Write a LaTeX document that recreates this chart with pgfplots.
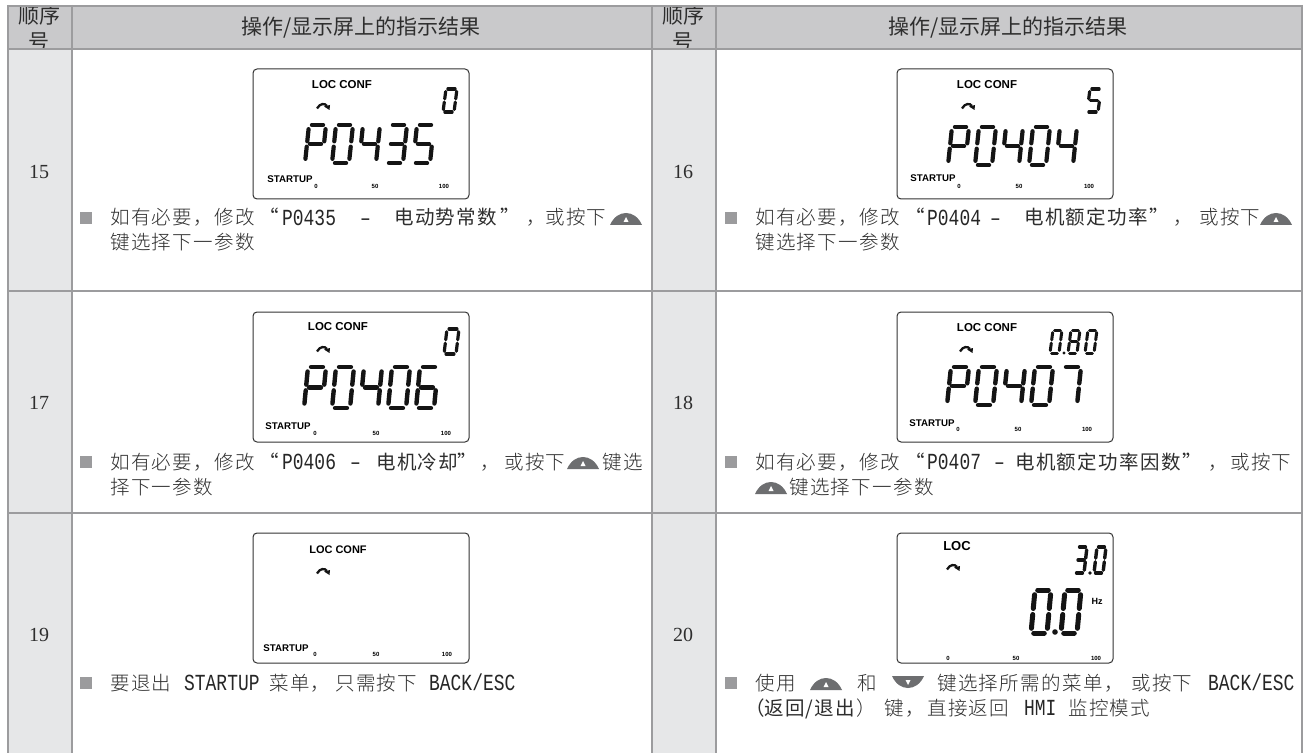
\documentclass[border=0pt]{standalone}
\usepackage{pgfplots}
\pgfplotsset{compat=1.18}
\usepackage{fontspec}
\setmainfont{Liberation Sans}
\newfontfamily\cjk[LetterSpace=7]{Noto Sans CJK SC}
\newfontfamily\cjkl[LetterSpace=7,UprightFont=* Light]{Noto Sans CJK SC}
\newfontfamily\cjkh{Noto Sans CJK SC}
\newfontfamily\mono{Liberation Mono}
\newfontfamily\ser{Liberation Serif}
\definecolor{hdr}{HTML}{C9C9CB}
\definecolor{numc}{HTML}{E6E7E8}
\definecolor{rule}{HTML}{9C9C9E}
\definecolor{txt}{HTML}{2E2E2E}
\definecolor{btn}{HTML}{6D6E70}
\definecolor{bul}{HTML}{9B9B9D}
% seven-segment digits
\def\Da{\segm{.17}{0}{.83}{0}}
\def\Db{\segm{1}{.11}{1}{.43}}
\def\Dc{\segm{1}{.57}{1}{.89}}
\def\Dd{\segm{.83}{1}{.17}{1}}
\def\De{\segm{0}{.89}{0}{.57}}
\def\Df{\segm{0}{.43}{0}{.11}}
\def\Dg{\segm{.17}{.5}{.83}{.5}}
\def\DP{a,b,e,f,g}
\expandafter\def\csname D0\endcsname{a,b,c,d,e,f}
\expandafter\def\csname D3\endcsname{a,b,c,d,g}
\expandafter\def\csname D4\endcsname{b,c,f,g}
\expandafter\def\csname D5\endcsname{a,c,d,f,g}
\expandafter\def\csname D6\endcsname{a,c,d,e,f,g}
\expandafter\def\csname D7\endcsname{a,b,c}
\expandafter\def\csname D8\endcsname{a,b,c,d,e,f,g}
\newcommand\segm[4]{\draw[line width=\dlw pt,line cap=round,black!92]
  (axis cs:{\dx+#1*\dw+(1-#2)*\ds},{\dy+#2*\dh}) -- (axis cs:{\dx+#3*\dw+(1-#4)*\ds},{\dy+#4*\dh});}
% x y w(without slant) h slant lw digit
\newcommand\dig[7]{\begingroup\def\dx{#1}\def\dy{#2}\def\dw{#3}\def\dh{#4}\def\ds{#5}\def\dlw{#6}%
  \edef\lst{\csname D#7\endcsname}\foreach \s in \lst {\csname D\s\endcsname}\endgroup}
\newcommand\Dot[3]{\fill[black!92] (axis cs:#1,#2) circle[radius=#3pt];}
% x y pitch w h slant lw list
\newcommand\drow[8]{\foreach \c [count=\i from 0] in {#8}{\pgfmathsetmacro\xx{#1+\i*#3}\dig{\xx}{#2}{#4}{#5}{#6}{#7}{\c}}}
\newcommand\T[4]{\node[anchor=base west,inner sep=0,text=txt] at (axis cs:#1,{#2+7}) {#3\fontsize{19.5}{20}\selectfont #4};}
\newcommand\M[3]{\node[anchor=base west,inner sep=0,text=black!85] at (axis cs:#1,{#2+7.5}) {\scalebox{.78}[1]{\mono\fontsize{23}{24}\selectfont #3}};}
\newcommand\Bul[2]{\fill[bul] (axis cs:#1,{#2-6}) rectangle (axis cs:{#1+12},{#2+6});}
\newcommand\up[2]{\fill[btn] (axis cs:#1,{#2+7}) .. controls (axis cs:{#1+7},{#2-9}) and (axis cs:{#1+25},{#2-9}) .. (axis cs:{#1+32},{#2+7}) -- cycle;
  \fill[white] (axis cs:{#1+16},{#2-1}) -- (axis cs:{#1+18.5},{#2+4}) -- (axis cs:{#1+13.5},{#2+4}) -- cycle;}
\newcommand\down[2]{\fill[btn] (axis cs:#1,{#2-7}) .. controls (axis cs:{#1+7},{#2+9}) and (axis cs:{#1+25},{#2+9}) .. (axis cs:{#1+32},{#2-7}) -- cycle;
  \fill[white] (axis cs:{#1+16},{#2+2}) -- (axis cs:{#1+18.5},{#2-3}) -- (axis cs:{#1+13.5},{#2-3}) -- cycle;}
\newcommand\Sa[4]{\node[anchor=center,inner sep=0] at (axis cs:#1,#2) {\fontsize{#3}{#3}\selectfont\bfseries #4};}
\newcommand\Arrow[2]{\draw[line width=2.3pt,black!92] (axis cs:{#1-6},{#2+2.5}) .. controls (axis cs:{#1-3},{#2-3}) and (axis cs:{#1+2},{#2-3}) .. (axis cs:{#1+4},{#2});
  \fill[black!92] (axis cs:{#1+1},{#2+0.5}) -- (axis cs:{#1+7},{#2-1}) -- (axis cs:{#1+6.5},{#2+4}) -- cycle;}
\newcommand\LCD[2]{\draw[line width=1pt,black!80,rounded corners=4pt] (axis cs:#1,#2) rectangle (axis cs:{#1+216},{#2+130});}
\begin{document}
\begin{tikzpicture}
\begin{axis}[at={(0,0)},anchor=south west,scale only axis,width=1304pt,height=753pt,
  xmin=0,xmax=1304,ymin=0,ymax=753,y dir=reverse,hide axis,clip=false]
\path (axis cs:0,0) rectangle (axis cs:1304,753);
% header band
\addplot[draw=none,fill=hdr,forget plot] coordinates {(7,6) (1302,6) (1302,49) (7,49)} -- cycle;
\node[inner sep=0,text=txt] at (axis cs:39,16) {\cjkh\fontsize{21}{21}\selectfont 顺序};
\node[inner sep=0,text=txt] at (axis cs:39,42) {\cjkh\fontsize{21}{21}\selectfont 号};
\node[inner sep=0,text=txt] at (axis cs:683,16) {\cjkh\fontsize{21}{21}\selectfont 顺序};
\node[inner sep=0,text=txt] at (axis cs:683,42) {\cjkh\fontsize{21}{21}\selectfont 号};
\node[inner sep=0,text=txt] at (axis cs:361,28) {\cjkh\fontsize{21}{21}\selectfont 操作/显示屏上的指示结果};
\node[inner sep=0,text=txt] at (axis cs:1008,28) {\cjkh\fontsize{21}{21}\selectfont 操作/显示屏上的指示结果};
\addplot[draw=none,fill=white,forget plot] coordinates {(0,0) (1304,0) (1304,5) (0,5)} -- cycle;
\addplot[draw=none,fill=white,forget plot] coordinates {(0,49) (1304,49) (1304,753) (0,753)} -- cycle;
% number columns
\addplot[draw=none,fill=numc,forget plot] coordinates {(7,49) (71,49) (71,753) (7,753)} -- cycle;
\addplot[draw=none,fill=numc,forget plot] coordinates {(651,49) (715,49) (715,753) (651,753)} -- cycle;
% rules
\addplot[rule,line width=2pt,forget plot] coordinates {(7,6) (1302,6)};
\addplot[rule,line width=2pt,forget plot] coordinates {(7,49.5) (1302,49.5)};
\addplot[rule,line width=2pt,forget plot] coordinates {(7,291) (1302,291)};
\addplot[rule,line width=2pt,forget plot] coordinates {(7,513) (1302,513)};
\addplot[rule,line width=2pt,forget plot] coordinates {(7.5,5) (7.5,753)};
\addplot[rule,line width=2pt,forget plot] coordinates {(71.5,5) (71.5,753)};
\addplot[rule,line width=2pt,forget plot] coordinates {(651.5,5) (651.5,753)};
\addplot[rule,line width=2pt,forget plot] coordinates {(715.5,5) (715.5,753)};
\addplot[rule,line width=2pt,forget plot] coordinates {(1302,5) (1302,753)};
% row numbers
\node[inner sep=0,text=txt] at (axis cs:39,172) {\ser\fontsize{20}{20}\selectfont 15};
\node[inner sep=0,text=txt] at (axis cs:683,172) {\ser\fontsize{20}{20}\selectfont 16};
\node[inner sep=0,text=txt] at (axis cs:39,403) {\ser\fontsize{20}{20}\selectfont 17};
\node[inner sep=0,text=txt] at (axis cs:683,403) {\ser\fontsize{20}{20}\selectfont 18};
\node[inner sep=0,text=txt] at (axis cs:39,635) {\ser\fontsize{20}{20}\selectfont 19};
\node[inner sep=0,text=txt] at (axis cs:683,635) {\ser\fontsize{20}{20}\selectfont 20};
% LCD boxes
\LCD{253}{69}\LCD{897}{69}\LCD{253}{312}\LCD{897}{312}\LCD{253}{533}\LCD{897}{533}
% box 15
\Sa{342}{85}{11.5}{LOC CONF}\Sa{290}{179}{9.7}{STARTUP}\Sa{316}{186}{6}{0}\Sa{375}{186}{6}{50}\Sa{444}{186}{6}{100}\Arrow{323}{106}
\pgfplotsextra{\dig{443}{89}{11}{23}{3}{3.2}{0}\drow{305}{125}{27}{17}{38}{4}{4.2}{P,0,4,3,5}}
% box 16
\Sa{987}{85}{11.5}{LOC CONF}\Sa{933}{178}{9.7}{STARTUP}\Sa{959}{186}{6}{0}\Sa{1019}{186}{6}{50}\Sa{1089}{186}{6}{100}\Arrow{968}{106}
\pgfplotsextra{\dig{1087}{89}{11}{23}{3}{3.2}{5}\drow{948}{127}{27}{17}{38}{4}{4.2}{P,0,4,0,4}}
% box 17
\Sa{338}{327}{11.5}{LOC CONF}\Sa{288}{426}{9.7}{STARTUP}\Sa{315}{433}{6}{0}\Sa{376}{433}{6}{50}\Sa{446}{433}{6}{100}\Arrow{323}{349}
\pgfplotsextra{\dig{444}{329}{12}{25}{3}{3.2}{0}\drow{304}{367}{28}{18}{41}{4}{4.4}{P,0,4,0,6}}
% box 18
\Sa{987}{328}{11.5}{LOC CONF}\Sa{932}{423}{9.7}{STARTUP}\Sa{958}{429}{6}{0}\Sa{1018}{429}{6}{50}\Sa{1087}{429}{6}{100}\Arrow{966}{349}
\pgfplotsextra{\drow{947}{367}{28}{18}{38}{4}{4.4}{P,0,4,0,7}
  \dig{1050}{330}{9}{23}{3}{3}{0}\Dot{1064}{353}{1.6}\dig{1068}{330}{9}{23}{3}{3}{8}\dig{1085}{330}{9}{23}{3}{3}{0}}
% box 19
\Sa{338}{550}{11}{LOC CONF}\Sa{286}{648}{9.7}{STARTUP}\Sa{315}{654}{6}{0}\Sa{376}{654}{6}{50}\Sa{447}{654}{6}{100}\Arrow{323}{571}
% box 20
\Sa{957}{546}{13}{LOC}\Arrow{953}{567}\Sa{1097}{601}{9}{Hz}\Sa{948}{658}{6}{0}\Sa{1016}{658}{6}{50}\Sa{1096}{658}{6}{100}
\pgfplotsextra{\dig{1075}{547}{9}{26}{3}{3.4}{3}\Dot{1090}{573}{1.8}\dig{1094}{547}{9}{26}{3}{3.4}{0}
  \dig{1031}{590}{16}{43}{4}{5}{0}\Dot{1055}{632}{2.8}\dig{1061}{590}{16}{43}{4}{5}{0}}
% row 15 text
\Bul{80}{218}\T{110}{218}{\cjkl}{如有必要，修改}\T{259}{218}{\cjk}{“}\M{282}{218}{P0435}\M{360}{218}{–}\T{394}{218}{\cjk}{电动势常数}\T{500}{218}{\cjk}{”}\T{526}{218}{\cjkl}{，}\T{545}{218}{\cjkl}{或按下}\up{610}{218}
\T{110}{243}{\cjkl}{键选择下一参数}
% row 16 text
\Bul{725}{218}\T{755}{218}{\cjkl}{如有必要，修改}\T{905}{218}{\cjk}{“}\M{927}{218}{P0404}\M{990}{218}{–}\T{1024}{218}{\cjk}{电机额定功率}\T{1149}{218}{\cjk}{”}\T{1173}{218}{\cjkl}{，}\T{1199}{218}{\cjkl}{或按下}\up{1260}{218}
\T{755}{243}{\cjkl}{键选择下一参数}
% row 17 text
\Bul{80}{462}\T{110}{462}{\cjkl}{如有必要，修改}\T{259}{462}{\cjk}{“}\M{282}{462}{P0406}\M{350}{462}{–}\T{376}{462}{\cjk}{电机冷却}\T{457}{462}{\cjk}{”}\T{480}{462}{\cjkl}{，}\T{504}{462}{\cjkl}{或按下}\up{567}{462}\T{602}{462}{\cjkl}{键选}
\T{110}{487}{\cjkl}{择下一参数}
% row 18 text
\Bul{725}{462}\T{755}{462}{\cjkl}{如有必要，修改}\T{905}{462}{\cjk}{“}\M{927}{462}{P0407}\M{994}{462}{–}\T{1015}{462}{\cjk}{电机额定功率因数}\T{1182}{462}{\cjk}{”}\T{1208}{462}{\cjkl}{，}\T{1230}{462}{\cjkl}{或按下}
\up{755}{487}\T{789}{487}{\cjkl}{键选择下一参数}
% row 19 text
\Bul{80}{683}\T{110}{683}{\cjkl}{要退出}\M{184}{683}{STARTUP}\T{269}{683}{\cjkl}{菜单，}\T{335}{683}{\cjkl}{只需按下}\M{429}{683}{BACK/ESC}
% row 20 text
\Bul{725}{683}\T{755}{683}{\cjkl}{使用}\up{810}{683}\T{857}{683}{\cjkl}{和}\down{892}{683}\T{937}{683}{\cjkl}{键选择所需的菜单，}\T{1131}{683}{\cjkl}{或按下}\M{1208}{683}{BACK/ESC}
\T{745}{708}{\cjk}{（}\T{764}{708}{\cjk}{返回/退出}\T{856}{708}{\cjkl}{）}\T{884}{708}{\cjkl}{键，}\T{927}{708}{\cjkl}{直接返回}\M{1024}{708}{HMI}\T{1068}{708}{\cjkl}{监控模式}
\end{axis}
\end{tikzpicture}
\end{document}
